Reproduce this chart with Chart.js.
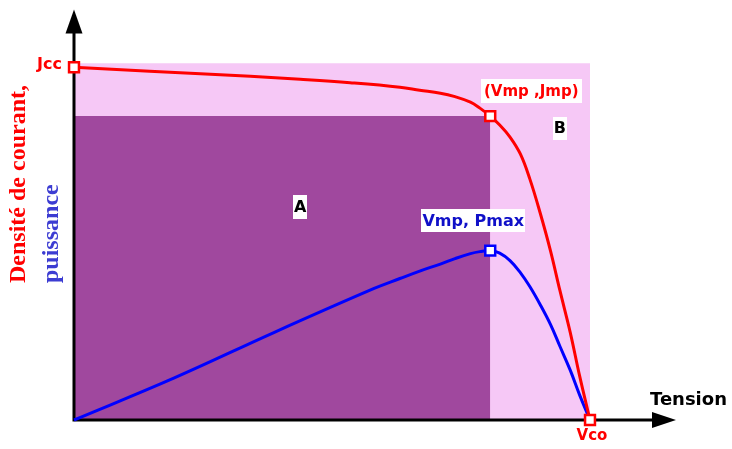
<!DOCTYPE html>
<html>
<head>
<meta charset="utf-8">
<script src="https://cdn.jsdelivr.net/npm/chart.js@4/dist/chart.umd.min.js"></script>
<style>
  html, body { margin: 0; padding: 0; background: #ffffff; }
  #wrap { width: 732px; height: 449px; }
</style>
</head>
<body>
<div id="wrap"><canvas id="cell" width="732" height="449"></canvas></div>
<script>
// Characteristic points of the cell
const Vco = 0.6;      // open-circuit voltage
const Vmp = 0.484;    // voltage at maximum power
const Jcc = 35.4;     // short-circuit current density
const Jmp = 30.5;     // current density at maximum power
const Pmax = 17.0;    // maximum power (plotted units)
const Jframe = 35.8;  // height of the Vco x Jcc frame (area B)

// J(V) curve
const voltageJ = [0, 0.088, 0.147, 0.205, 0.263, 0.321, 0.379, 0.402, 0.426, 0.443, 0.461, 0.472,
  Vmp, 0.495, 0.507, 0.519, 0.530, 0.542, 0.554, 0.565, 0.577, 0.588, Vco];
const currentDensity = [Jcc, 35.0, 34.75, 34.5, 34.2, 33.85, 33.4, 33.1, 32.8, 32.45, 31.9, 31.3,
  Jmp, 29.6, 28.4, 26.7, 24.2, 20.8, 17.0, 13.0, 8.8, 4.4, 0];

// P(V) curve
const voltageP = [0, 0.116, 0.233, 0.349, 0.379, 0.402, 0.426, 0.443, 0.461, 0.472, Vmp,
  0.495, 0.507, 0.519, 0.530, 0.542, 0.554, 0.565, 0.577, 0.588, Vco];
const power = [0, 4.2, 8.8, 13.2, 14.2, 14.95, 15.65, 16.2, 16.7, 16.9, Pmax,
  16.75, 16.0, 14.8, 13.4, 11.6, 9.6, 7.4, 5.0, 2.5, 0];

// Axis extents
const xMax = 0.7;
const yMax = 41.2;

const toPoints = (xs, ys) => xs.map((x, i) => ({ x: x, y: ys[i] }));

const RED = '#ff0000';
const BLUE = '#0000ff';

// Axes with arrow heads, drawn right after area A so curves and markers sit on top
const axesPlugin = {
  id: 'arrowAxes',
  afterDatasetDraw(chart, args) {
    if (args.index !== 1) return;
    const { ctx, scales: { x, y } } = chart;
    const x0 = x.getPixelForValue(0);
    const y0 = y.getPixelForValue(0);
    const yTop = y.getPixelForValue(yMax);
    const xEnd = x.getPixelForValue(xMax);
    ctx.save();
    ctx.strokeStyle = '#000';
    ctx.fillStyle = '#000';
    ctx.lineWidth = 3;
    ctx.beginPath();
    ctx.moveTo(x0, y0 + 1.5);
    ctx.lineTo(x0, yTop + 20);
    ctx.moveTo(x0 - 1.5, y0);
    ctx.lineTo(xEnd - 20, y0);
    ctx.stroke();
    ctx.beginPath();
    ctx.moveTo(x0, yTop);
    ctx.lineTo(x0 - 8.5, yTop + 24);
    ctx.lineTo(x0 + 8.5, yTop + 24);
    ctx.closePath();
    ctx.fill();
    ctx.beginPath();
    ctx.moveTo(xEnd, y0);
    ctx.lineTo(xEnd - 24, y0 - 8);
    ctx.lineTo(xEnd - 24, y0 + 8);
    ctx.closePath();
    ctx.fill();
    ctx.restore();
  }
};

// Text annotations
const labelsPlugin = {
  id: 'annotations',
  afterDraw(chart) {
    const { ctx, scales: { x, y } } = chart;
    const px = v => x.getPixelForValue(v);
    const py = v => y.getPixelForValue(v);

    function boxed(text, cx, cy, font, color, padX, h) {
      ctx.font = font;
      const w = ctx.measureText(text).width + 2 * padX;
      ctx.fillStyle = '#ffffff';
      ctx.fillRect(Math.round(cx - w / 2), Math.round(cy - h / 2), Math.round(w), h);
      ctx.fillStyle = color;
      ctx.textAlign = 'center';
      ctx.textBaseline = 'middle';
      ctx.fillText(text, cx, cy + 1);
    }

    ctx.save();
    boxed('(Vmp ,Jmp)', px(Vmp) + 41, py(Jmp) - 25, "bold 15px 'DejaVu Sans'", RED, 3, 24);
    boxed('Vmp, Pmax', px(Vmp) - 17, py(Pmax) - 30, "bold 16px 'DejaVu Sans'", '#1010c8', 1, 23);
    boxed('A', px(0.263), py(21.4), "bold 16px 'DejaVu Sans'", '#000', 1, 24);
    boxed('B', px(0.565), py(29.3), "bold 16px 'DejaVu Sans'", '#000', 1, 23);

    ctx.textBaseline = 'middle';
    ctx.font = "bold 16px 'DejaVu Sans'";
    ctx.fillStyle = RED;
    ctx.textAlign = 'right';
    ctx.fillText('Jcc', px(0) - 12, py(Jcc) - 2);
    ctx.textAlign = 'center';
    ctx.font = "bold 15px 'DejaVu Sans'";
    ctx.fillText('Vco', px(Vco) + 2, py(0) + 16);

    ctx.fillStyle = '#000';
    ctx.textAlign = 'left';
    ctx.font = "bold 18px 'DejaVu Sans'";
    ctx.fillText('Tension', px(0) + 576, py(0) - 20);

    // Rotated y-axis title in two colours
    ctx.font = "bold 24px 'Liberation Serif'";
    ctx.textBaseline = 'alphabetic';
    ctx.textAlign = 'left';
    ctx.save();
    ctx.translate(25, 283);
    ctx.rotate(-Math.PI / 2);
    ctx.fillStyle = RED;
    ctx.fillText('Densité de courant,', 0, 0);
    ctx.restore();
    ctx.save();
    ctx.translate(58, 283);
    ctx.rotate(-Math.PI / 2);
    ctx.fillStyle = '#3c3cd2';
    ctx.fillText('puissance', 0, 0);
    ctx.restore();
    ctx.restore();
  }
};

new Chart(document.getElementById('cell'), {
  type: 'scatter',
  data: {
    datasets: [
      { // area B : Vco x Jcc frame
        data: toPoints([0, Vco], [Jframe, Jframe]),
        showLine: true, fill: 'origin',
        backgroundColor: '#f6c8f6', borderColor: 'transparent', borderWidth: 0,
        pointRadius: 0, order: 5
      },
      { // area A : Vmp x Jmp
        data: toPoints([0, Vmp], [Jmp, Jmp]),
        showLine: true, fill: 'origin',
        backgroundColor: '#a0489e', borderColor: 'transparent', borderWidth: 0,
        pointRadius: 0, order: 4
      },
      { // power
        data: toPoints(voltageP, power),
        showLine: true, fill: false,
        borderColor: BLUE, borderWidth: 3, tension: 0.4,
        pointRadius: 0, order: 3
      },
      { // current density
        data: toPoints(voltageJ, currentDensity),
        showLine: true, fill: false,
        borderColor: RED, borderWidth: 3, tension: 0.4,
        pointRadius: 0, order: 2
      },
      { // characteristic points on J(V)
        data: toPoints([0, Vmp, Vco], [Jcc, Jmp, 0]),
        showLine: false, pointStyle: 'rect', pointRadius: 7,
        pointBackgroundColor: '#ffffff', pointBorderColor: RED, pointBorderWidth: 2.5,
        order: 1
      },
      { // maximum power point
        data: toPoints([Vmp], [Pmax]),
        showLine: false, pointStyle: 'rect', pointRadius: 7,
        pointBackgroundColor: '#ffffff', pointBorderColor: BLUE, pointBorderWidth: 2.5,
        order: 0
      }
    ]
  },
  options: {
    responsive: false,
    animation: false,
    events: [],
    layout: { padding: { left: 74, right: 56, top: 8, bottom: 29 } },
    plugins: { legend: { display: false }, tooltip: { enabled: false } },
    scales: {
      x: { type: 'linear', min: 0, max: xMax, display: false },
      y: { type: 'linear', min: 0, max: yMax, display: false }
    },
    clip: false
  },
  plugins: [axesPlugin, labelsPlugin]
});
</script>
</body>
</html>
